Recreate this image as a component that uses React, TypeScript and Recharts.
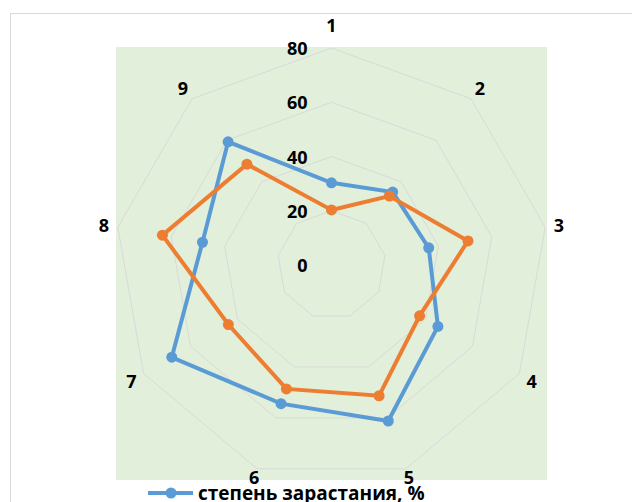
import React from "react";
import {
  RadarChart,
  Radar,
  PolarGrid,
  PolarAngleAxis,
  PolarRadiusAxis,
  Legend,
} from "recharts";

const categories = ["1", "2", "3", "4", "5", "6", "7", "8", "9"];
const seriesBlue = [30.3, 35.1, 36.4, 45.3, 61.2, 54.4, 68.0, 48.3, 59.3];
const seriesOrange = [20.3, 33.2, 51.1, 37.5, 51.3, 48.6, 43.9, 63.3, 48.5];
const radiusTicks = [0, 20, 40, 60, 80];
const blueName = "степень зарастания, %";
const orangeName = "ряд 2";

const data = categories.map((c, i) => ({
  cat: c,
  blue: seriesBlue[i],
  orange: seriesOrange[i],
}));

const CX = 331.5;
const CY = 265;
const R = 217;
const FONT = "'Open Sans', 'Noto Sans', sans-serif";
const BLUE = "#5b9bd5";
const ORANGE = "#ed7d31";

const AngleTick = (props: any) => {
  const { payload } = props;
  const ang = (payload.coordinate * Math.PI) / 180;
  const s = Math.sin(ang);
  const c = Math.cos(ang);
  let off = 14;
  if (s > 0.99) off = 23;
  if (s < -0.9) off = 9;
  const x = CX + (R + off) * c;
  const y = CY - (R + off) * s;
  return (
    <text
      x={x}
      y={y}
      textAnchor="middle"
      dominantBaseline="central"
      fontFamily={FONT}
      fontWeight={700}
      fontSize={18}
      fill="#000"
    >
      {payload.value}
    </text>
  );
};

const RadiusTick = (props: any) => {
  const { x, y, payload } = props;
  return (
    <text
      x={x - 24}
      y={y}
      textAnchor="end"
      dominantBaseline="central"
      fontFamily={FONT}
      fontWeight={700}
      fontSize={18}
      fill="#000"
    >
      {payload.value}
    </text>
  );
};

const makeDot = (color: string) => (p: any) => (
  <circle key={`d-${color}-${p.index}`} cx={p.cx} cy={p.cy} r={5.5} fill={color} stroke="none" />
);

const LegendContent = (props: any) => {
  const items = (props.payload || []).filter((p: any) => p.value === blueName);
  return (
    <div style={{ display: "flex", flexDirection: "column" }}>
      {items.map((p: any) => (
        <div key={p.value} style={{ display: "flex", alignItems: "center", height: 22 }}>
          <svg width={48} height={14} style={{ marginRight: 3 }}>
            <line x1={1} y1={7} x2={46} y2={7} stroke={BLUE} strokeWidth={4} />
            <circle cx={24} cy={7} r={5.5} fill={BLUE} />
          </svg>
          <span
            style={{
              fontFamily: FONT,
              fontWeight: 700,
              fontSize: 19,
              color: "#000",
              whiteSpace: "nowrap",
            }}
          >
            {p.value}
          </span>
        </div>
      ))}
    </div>
  );
};

export default function App() {
  return (
    <div
      style={{
        position: "absolute",
        left: 0,
        top: 0,
        width: 632,
        height: 502,
        overflow: "hidden",
        background: "#fff",
      }}
    >
      <div
        style={{
          position: "absolute",
          left: 10,
          top: 13,
          width: 700,
          height: 600,
          border: "1.5px solid #d9d9d9",
          boxSizing: "border-box",
        }}
      />
      <div
        style={{
          position: "absolute",
          left: 116,
          top: 47,
          width: 431,
          height: 433,
          background: "#e2efda",
        }}
      />
      <div style={{ position: "absolute", left: 0, top: 0 }}>
        <RadarChart
          width={632}
          height={502}
          data={data}
          cx={CX}
          cy={CY}
          outerRadius={R}
          startAngle={90}
          endAngle={-270}
          margin={{ top: 0, right: 0, bottom: 0, left: 0 }}
        >
          <PolarGrid gridType="polygon" radialLines={false} stroke="#d9d9d9" strokeWidth={1} />
          <PolarAngleAxis dataKey="cat" tick={<AngleTick />} axisLine={false} tickLine={false} />
          <PolarRadiusAxis
            angle={90}
            domain={[0, 80]}
            ticks={radiusTicks}
            tickCount={5}
            axisLine={false}
            tickLine={false}
            tick={<RadiusTick />}
          />
          <Radar
            name={blueName}
            dataKey="blue"
            stroke={BLUE}
            strokeWidth={4}
            fill="none"
            fillOpacity={0}
            dot={makeDot(BLUE)}
            isAnimationActive={false}
          />
          <Radar
            name={orangeName}
            dataKey="orange"
            stroke={ORANGE}
            strokeWidth={4}
            fill="none"
            fillOpacity={0}
            dot={makeDot(ORANGE)}
            isAnimationActive={false}
          />
          <Legend
            content={<LegendContent />}
            wrapperStyle={{ position: "absolute", left: 147, top: 482, width: 400, height: 30 }}
          />
        </RadarChart>
      </div>
    </div>
  );
}
